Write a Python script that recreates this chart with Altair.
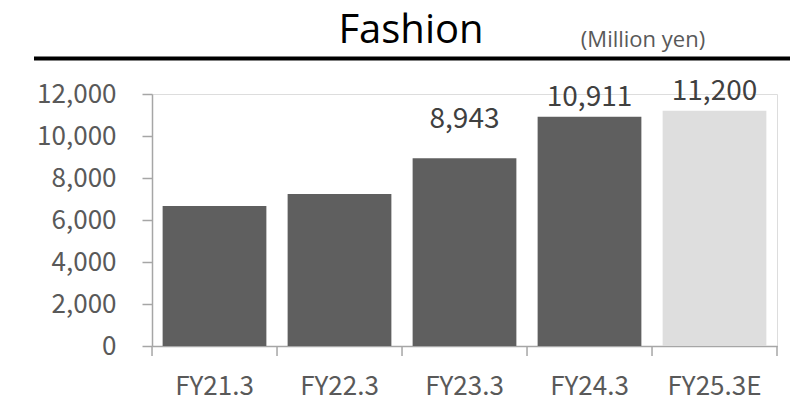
import altair as alt
import pandas as pd

# Fashion segment sales by fiscal year (million yen)
years = ["FY21.3", "FY22.3", "FY23.3", "FY24.3", "FY25.3E"]
sales = [6670, 7240, 8943, 10911, 11200]
labels = ["", "", "8,943", "10,911", "11,200"]
kinds = ["actual", "actual", "actual", "actual", "forecast"]

heading = ["Fashion"]
unit = ["(Million yen)"]

df = pd.DataFrame({"year": years, "sales": sales, "label": labels, "kind": kinds})
head_df = pd.DataFrame({"heading": heading, "unit": unit})

W, H = 625, 252
LABEL_FONT = "Noto Sans CJK JP"
HEAD_FONT = "Open Sans"
AXIS_GREY = "#a6a6a6"

x_scale = alt.Scale(paddingInner=0.17, paddingOuter=0.085)

x_enc = alt.X(
    "year:N",
    sort=years,
    scale=x_scale,
    axis=alt.Axis(
        title=None,
        labelAngle=0,
        ticks=False,
        domainColor=AXIS_GREY,
        domainWidth=1.5,
        labelFont=LABEL_FONT,
        labelFontSize=26,
        labelColor="#595959",
        labelPadding=27,
    ),
)

y_enc = alt.Y(
    "sales:Q",
    scale=alt.Scale(domain=[0, 12000], nice=False),
    axis=alt.Axis(
        title=None,
        values=[0, 2000, 4000, 6000, 8000, 10000, 12000],
        format=",d",
        grid=False,
        tickSize=10,
        tickColor=AXIS_GREY,
        domainColor=AXIS_GREY,
        domainWidth=1.5,
        tickWidth=1.5,
        labelFont=LABEL_FONT,
        labelFontSize=26,
        labelColor="#595959",
        labelPadding=26,
    ),
)

base = alt.Chart(df)
head = alt.Chart(head_df)

bars = base.mark_bar().encode(
    x=x_enc,
    y=y_enc,
    color=alt.Color(
        "kind:N",
        scale=alt.Scale(domain=["actual", "forecast"], range=["#5f5f5f", "#dedede"]),
        legend=None,
    ),
)

value_text = base.transform_filter(alt.datum.year != "FY23.3").mark_text(
    font=LABEL_FONT, fontSize=28, color="#404040", baseline="bottom", dy=-5
).encode(x=alt.X("year:N", sort=years), y="sales:Q", text="label:N")

value_text_low = base.transform_filter(alt.datum.year == "FY23.3").mark_text(
    font=LABEL_FONT, fontSize=28, color="#404040", baseline="bottom", dy=-24
).encode(x=alt.X("year:N", sort=years), y="sales:Q", text="label:N")

# category separators: ticks between the bars, hanging below the axis
sep_ticks = base.mark_rule(color=AXIS_GREY, strokeWidth=1.5, xOffset=-10.6).encode(
    x=alt.X("year:N", sort=years, bandPosition=0),
    y=alt.value(H),
    y2=alt.value(H + 10),
)

# closing tick at the right end of the category axis
end_tick = head.mark_rule(color=AXIS_GREY, strokeWidth=1.5).encode(
    x=alt.value(W), y=alt.value(H), y2=alt.value(H + 10)
)

# heading rule under the title
header_rule = head.mark_rule(color="#000000", strokeWidth=4).encode(
    x=alt.value(34 - 152), x2=alt.value(790 - 152), y=alt.value(58.5 - 94)
)

title_text = head.mark_text(
    font=HEAD_FONT, fontSize=40, color="#000000",
    align="center", baseline="alphabetic"
).encode(x=alt.value(411 - 152), y=alt.value(43 - 94), text="heading:N")

unit_text = head.mark_text(
    font=HEAD_FONT, fontSize=22, color="#595959",
    align="center", baseline="alphabetic"
).encode(x=alt.value(643 - 152), y=alt.value(47 - 94), text="unit:N")

chart = (
    alt.layer(bars, value_text, value_text_low, sep_ticks, end_tick,
              header_rule, title_text, unit_text)
    .properties(
        width=W,
        height=H,
        autosize=alt.AutoSizeParams(type="none"),
        padding={"left": 152, "top": 94, "right": 13, "bottom": 67},
    )
    .configure_view(stroke=None)
    .configure(background="#ffffff")
)

chart.save("out.html", embed_options={"renderer": "svg", "actions": False})
